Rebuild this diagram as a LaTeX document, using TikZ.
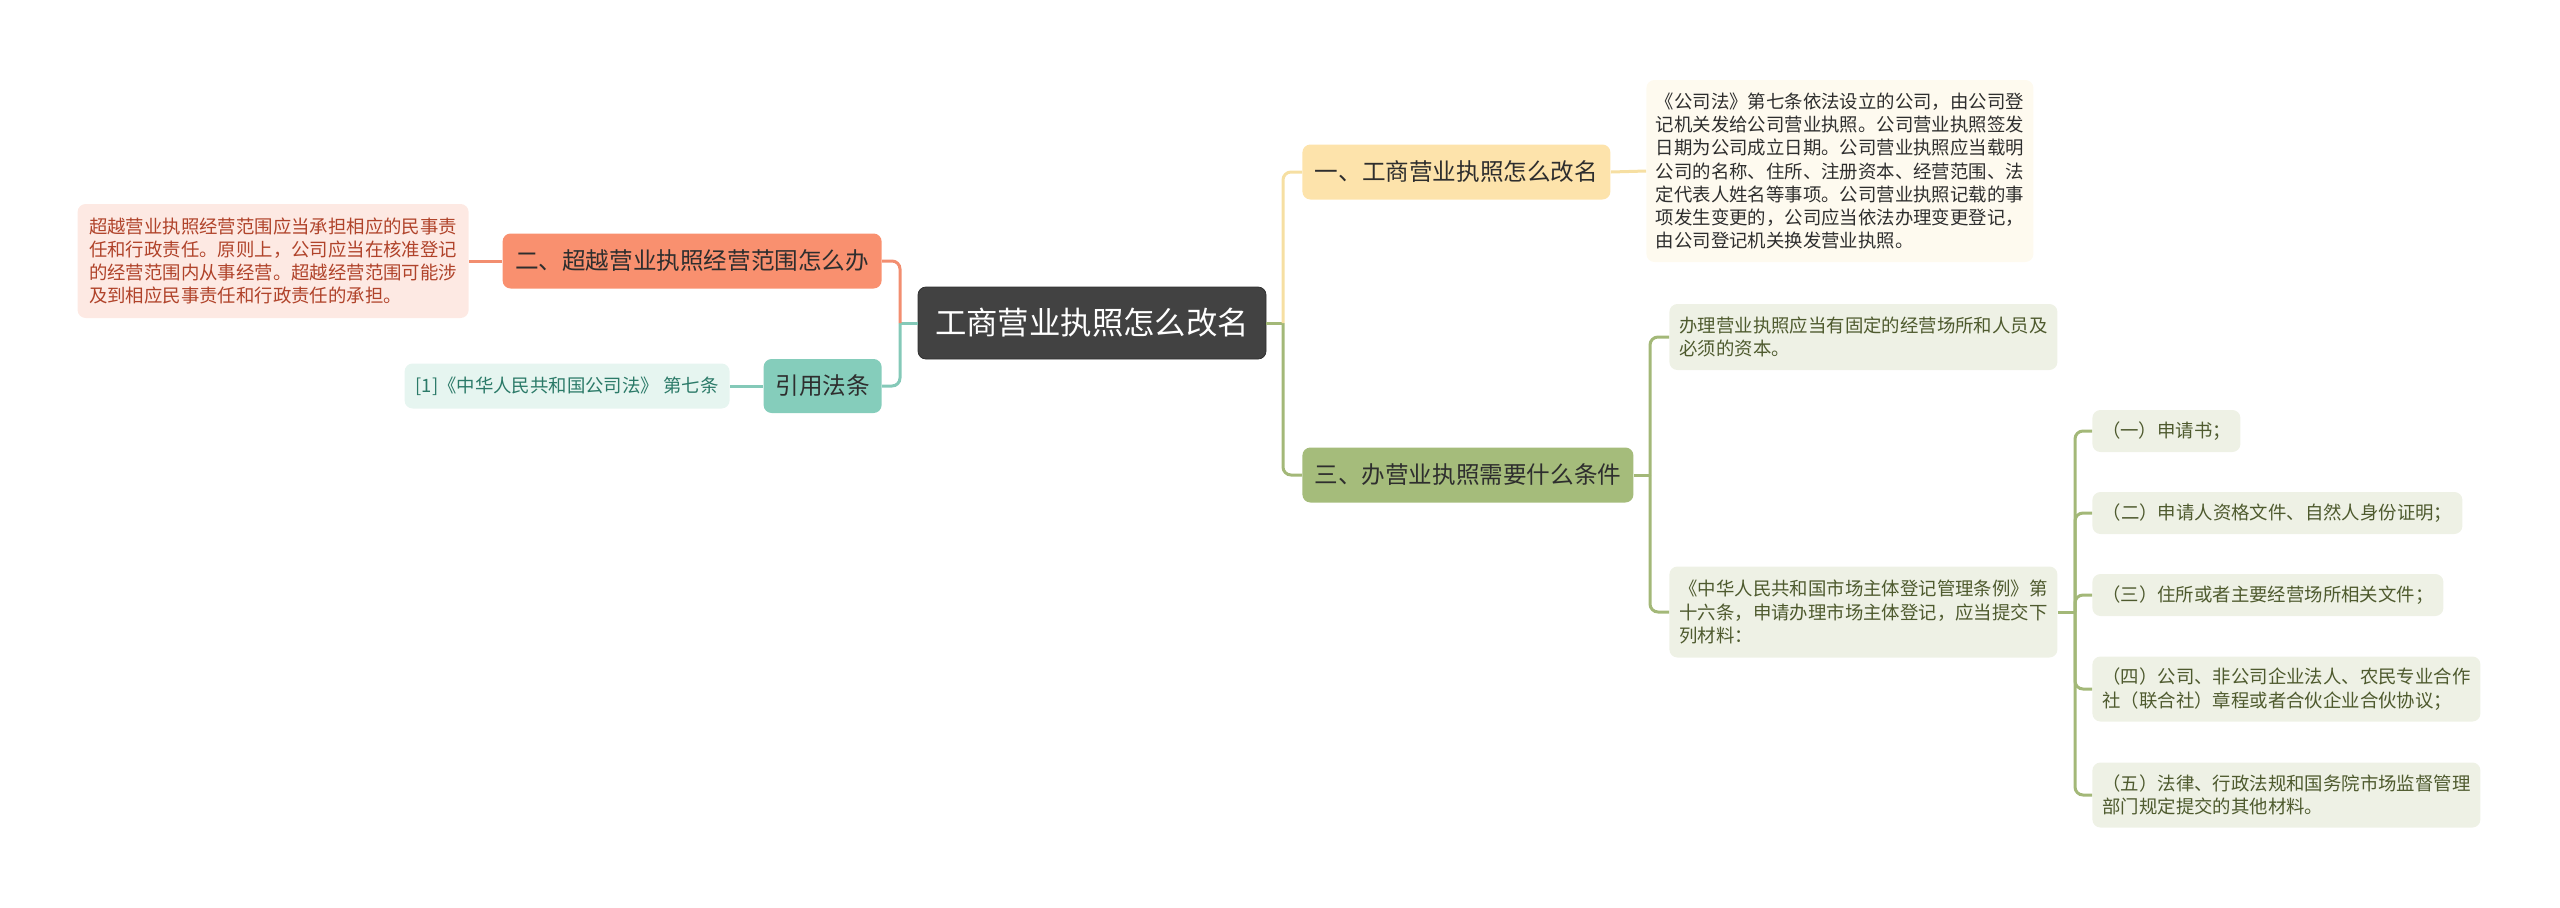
\documentclass[tikz,border=0pt]{standalone}
\usepackage{fontspec}
\setmainfont{Noto Sans CJK SC}
\usetikzlibrary{positioning}
\definecolor{rootfill}{HTML}{424242}
\definecolor{rootdraw}{HTML}{303030}
\definecolor{topictext}{HTML}{2E2E2E}
\definecolor{yfill}{HTML}{FDE3AB}
\definecolor{yleaf}{HTML}{FEFAEF}
\definecolor{yline}{HTML}{F6DFA2}
\definecolor{ofill}{HTML}{F9906F}
\definecolor{oleaf}{HTML}{FDE9E3}
\definecolor{otext}{HTML}{B0432A}
\definecolor{oline}{HTML}{F28E70}
\definecolor{tfill}{HTML}{85CDBB}
\definecolor{tleaf}{HTML}{E6F5F0}
\definecolor{ttext}{HTML}{2B7A68}
\definecolor{tline}{HTML}{84C9B8}
\definecolor{gfill}{HTML}{A5BC7B}
\definecolor{gleaf}{HTML}{EEF1E5}
\definecolor{gtext}{HTML}{4E5A2E}
\definecolor{gline}{HTML}{A3B878}

\begin{document}
\begin{tikzpicture}[x=0.5pt,y=-0.5pt,
    box/.style={rounded corners=4pt,inner sep=0pt,align=left},
    rootnode/.style={box,fill=rootfill,draw=rootdraw,text=white,
      font=\fontsize{15.7pt}{19pt}\selectfont,minimum height=36pt},
    topic/.style={box,text=topictext,font=\fontsize{11.8pt}{14pt}\selectfont,minimum height=27.5pt},
    leaf/.style={box,font=\fontsize{9.2pt}{11.65pt}\selectfont},
    gleafnode/.style={leaf,fill=gleaf,text=gtext,anchor=west},
    link/.style={line width=1.5pt,rounded corners=4pt}]
  \useasboundingbox (0,0) rectangle (2560,907);

  % centre
  \node[rootnode,minimum width=174pt] (root) at (1092,323) {工商营业执照怎么改名};

  % right side
  \node[topic,fill=yfill,minimum width=154pt,anchor=west] (one) at (1302,172) {一、工商营业执照怎么改名};
  \node[leaf,fill=yleaf,text=topictext,minimum width=193.5pt,minimum height=91pt,anchor=west] (oned) at (1646,171)
    {《公司法》第七条依法设立的公司，由公司登\\记机关发给公司营业执照。公司营业执照签发\\日期为公司成立日期。公司营业执照应当载明\\公司的名称、住所、注册资本、经营范围、法\\定代表人姓名等事项。公司营业执照记载的事\\项发生变更的，公司应当依法办理变更登记，\\由公司登记机关换发营业执照。};
  \node[topic,fill=gfill,minimum width=165.5pt,anchor=west] (three) at (1302,475) {三、办营业执照需要什么条件};
  \node[gleafnode,minimum width=194pt,minimum height=33pt] (threea) at (1669,337)
    {办理营业执照应当有固定的经营场所和人员及\\必须的资本。};
  \node[gleafnode,minimum width=194pt,minimum height=45.5pt] (threeb) at (1669,612)
    {《中华人民共和国市场主体登记管理条例》第\\十六条，申请办理市场主体登记，应当提交下\\列材料：};
  \node[gleafnode,minimum width=74pt,minimum height=21pt] (sa) at (2092,431) {（一）申请书；};
  \node[gleafnode,minimum width=185pt,minimum height=21pt] (sb) at (2092,513) {（二）申请人资格文件、自然人身份证明；};
  \node[gleafnode,minimum width=175.5pt,minimum height=21pt] (sc) at (2092,595) {（三）住所或者主要经营场所相关文件；};
  \node[gleafnode,minimum width=194pt,minimum height=32.5pt] (sd) at (2092,689)
    {（四）公司、非公司企业法人、农民专业合作\\社（联合社）章程或者合伙企业合伙协议；};
  \node[gleafnode,minimum width=194pt,minimum height=32.5pt] (se) at (2092,795)
    {（五）法律、行政法规和国务院市场监督管理\\部门规定提交的其他材料。};

  % left side
  \node[topic,fill=ofill,minimum width=189.5pt,anchor=east] (two) at (882,261) {二、超越营业执照经营范围怎么办};
  \node[leaf,fill=oleaf,text=otext,minimum width=195.5pt,minimum height=57pt,anchor=east] (twod) at (469,261)
    {超越营业执照经营范围应当承担相应的民事责\\任和行政责任。原则上，公司应当在核准登记\\的经营范围内从事经营。超越经营范围可能涉\\及到相应民事责任和行政责任的承担。};
  \node[topic,fill=tfill,minimum width=59pt,minimum height=27pt,anchor=east] (cite) at (882,386) {引用法条};
  \node[leaf,fill=tleaf,text=ttext,minimum width=162.5pt,minimum height=22.5pt,anchor=east] (citea) at (730,386)
    {[1]《中华人民共和国公司法》 第七条};

  % joints
  \coordinate (jr) at (1283,323);
  \coordinate (jl) at (900,323);
  \coordinate (jt) at (1650,475);
  \coordinate (js) at (2075,612);

  % links
  \draw[link,gline] (root.east) -- (jr);
  \draw[link,gline] (jr) |- (three.west);
  \draw[link,yline] (jr) |- (one.west);
  \draw[link,yline] (one.east) -- (oned.west);
  \draw[link,gline] (three.east) -- (jt);
  \draw[link,gline] (jt) |- (threea.west);
  \draw[link,gline] (jt) |- (threeb.west);
  \draw[link,gline] (threeb.east) -- (js);
  \foreach \s in {sa,sb,sc,sd,se}
    \draw[link,gline] (js) |- (\s.west);
  \draw[link,tline] (root.west) -- (jl);
  \draw[link,tline] (jl) |- (cite.east);
  \draw[link,oline] (jl) |- (two.east);
  \draw[link,oline] (two.west) -- (twod.east);
  \draw[link,tline] (cite.west) -- (citea.east);
\end{tikzpicture}
\end{document}
